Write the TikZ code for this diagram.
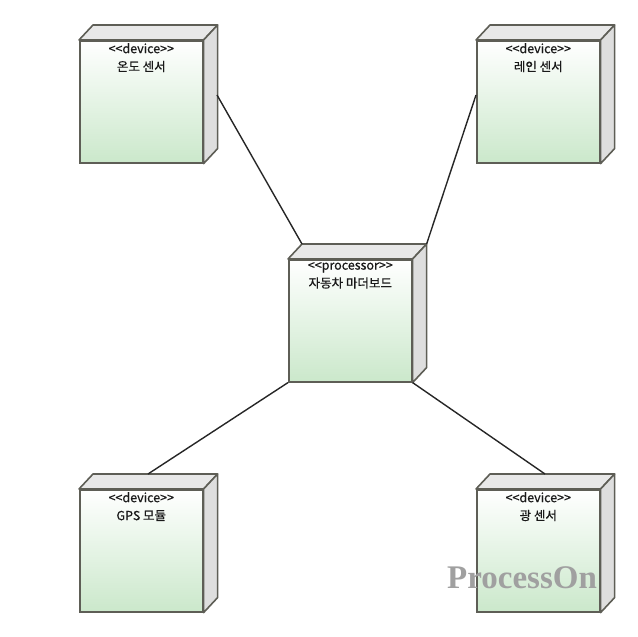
\documentclass[tikz,border=0pt]{standalone}
\usepackage{fontspec}
\newfontfamily\krfont[Ligatures=ResetAll, FakeBold=0.6]{Noto Sans CJK KR}
\newfontfamily\wmfont{Liberation Serif}
\usetikzlibrary{calc,positioning}
\definecolor{boxline}{HTML}{5E5E56}
\definecolor{boxgreen}{HTML}{CBE8CB}
\definecolor{topgray}{HTML}{E8E8E8}
\definecolor{sidegray}{HTML}{DEDEDE}
\definecolor{wmgray}{HTML}{A0A0A0}

%% one 3D deployment node: name, x, y, stereotype, label
\newcommand{\depnode}[5]{%
  \node[frontface] (#1) at (#2,#3) {};
  \filldraw[boxface, fill=topgray] (#1.north west) -- ++(14,-15) coordinate (#1-tnw)
    -- ($(#1.north east)+(14,-15)$) coordinate (#1-tne) -- (#1.north east) -- cycle;
  \filldraw[boxface, fill=sidegray] (#1.north east) -- (#1-tne)
    -- ($(#1.south east)+(14,-15)$) -- (#1.south east) -- cycle;
  \node[nodetext] (#1-txt) at ($(#1.north)+(0,3)$) {<<#4>>\\#5};
}

\begin{document}
\begin{tikzpicture}[x=1pt, y=-1pt,
    frontface/.style={draw=boxline, line width=1.6pt, top color=white,
      bottom color=boxgreen, minimum width=123pt, minimum height=122pt,
      inner sep=0pt, anchor=north west},
    boxface/.style={draw=boxline, line width=1.6pt, line join=round},
    nodetext/.style={font=\krfont\fontsize{12.5}{18}\selectfont, align=center,
      anchor=north, inner sep=0pt, text=black!90},
    link/.style={draw=black!85, line width=1.4pt}]
  \useasboundingbox (0,0) rectangle (638,637);

  %% free ends of the connectors
  \coordinate (temp-link) at (217,95);
  \coordinate (rain-link) at (476,95);
  \coordinate (gps-link) at (148,474);
  \coordinate (light-link) at (545,474);

  %% nodes
  \depnode{temp}{79}{40}{device}{온도 센서}
  \depnode{rain}{476}{40}{device}{레인 센서}
  \depnode{board}{288}{259}{processor}{자동차 마더보드}
  \depnode{gps}{79}{489}{device}{GPS 모듈}
  \depnode{light}{476}{489}{device}{광 센서}

  %% connectors
  \draw[link] (temp-link) -- (board-tnw);
  \draw[link] (rain-link) -- (board-tne);
  \draw[link] (gps-link) -- (board.south west);
  \draw[link] (light-link) -- (board.south east);

  %% watermark
  \node[font=\wmfont\bfseries\fontsize{33}{34}\selectfont, text=wmgray,
    anchor=west, inner sep=0pt] (mark) at (447,578) {ProcessOn};
\end{tikzpicture}
\end{document}
